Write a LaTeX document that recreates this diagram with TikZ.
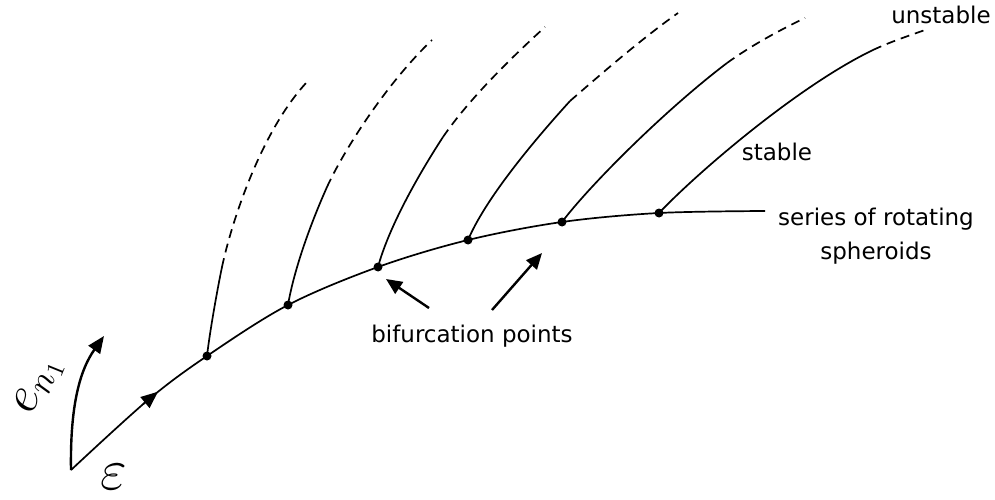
\documentclass[tikz,border=0pt]{standalone}
\usepackage{fontspec}
\setmainfont{DejaVu Sans}
\usetikzlibrary{arrows.meta}
\tikzset{
  curve/.style={line width=1.7pt},
  dashline/.style={line width=1.7pt, dash pattern=on 9pt off 6pt},
  bif/.style={circle, fill=black, inner sep=0pt, minimum size=9pt},
  lbl/.style={font=\fontsize{23}{34}\selectfont, inner sep=0pt},
  arr/.style={line width=2.4pt, -{Triangle[length=16pt,width=14pt]}},
}
\begin{document}
\begin{tikzpicture}[x=1pt,y=-1pt]
\useasboundingbox (0,0) rectangle (995,500);
% points
\coordinate (O) at (71,470);
\node[bif] (P1) at (207,356) {};
\node[bif] (P2) at (288,305) {};
\node[bif] (P3) at (378,267) {};
\node[bif] (P4) at (468,240) {};
\node[bif] (P5) at (562,222) {};
\node[bif] (P6) at (659,213) {};
\coordinate (E) at (765,211);
% main series
\draw[curve] plot[smooth, tension=0.55] coordinates {(71,470) (148,400) (207,356) (288,305) (378,267) (468,240) (562,222) (659,213) (765,211)};
\coordinate (M1) at (143,404.2); \coordinate (M2) at (158,391.7);
\draw[line width=1.7pt, -{Triangle[length=17pt,width=14pt]}] (M1) -- (M2);
% branch split points and ends
\coordinate (S1) at (222,267); \coordinate (T1) at (307,82);
\coordinate (S2) at (327,187); \coordinate (T2) at (432,40);
\coordinate (S3) at (443,137); \coordinate (T3) at (545,27);
\coordinate (S4) at (570,101); \coordinate (T4) at (678,13);
\coordinate (S5) at (727,63);  \coordinate (T5) at (805,18);
\coordinate (S6) at (873,50);  \coordinate (T6) at (925,30);
% branches
\draw[curve] (P1.center) .. controls (210,330) and (218,286) .. (S1);
\draw[dashline]  (S1) .. controls (232,220) and (262,130) .. (T1);
\draw[curve] (P2.center) .. controls (294,270) and (310,225) .. (S2);
\draw[dashline]  (S2) .. controls (343,152) and (385,85) .. (T2);
\draw[curve] (P3.center) .. controls (388,230) and (415,180) .. (S3);
\draw[dashline]  (S3) .. controls (465,105) and (500,68) .. (T3);
\draw[curve] (P4.center) .. controls (485,200) and (530,145) .. (S4);
\draw[dashline]  (S4) .. controls (600,75) and (640,40) .. (T4);
\draw[curve] (P5.center) .. controls (590,185) and (665,110) .. (S5);
\draw[dashline]  (S5) .. controls (752,45) and (780,30) .. (T5);
\draw[curve] (P6.center) .. controls (700,170) and (800,85) .. (S6);
\draw[dashline]  (S6) .. controls (890,42) and (908,36) .. (T6);
% labels
\node[lbl] (unst) at (941,15) {unstable};
\node[lbl] (stab) at (777,152) {stable};
\node[lbl, align=center] (ser) at (876,236) {series of rotating\\spheroids};
\node[lbl] (bifl) at (472,336) {bifurcation points};
% bifurcation arrows
\coordinate (A1s) at (429,308); \coordinate (A1e) at (386,279);
\coordinate (A2s) at (492,310); \coordinate (A2e) at (542,253);
\draw[arr] (A1s) -- (A1e);
\draw[arr] (A2s) -- (A2e);
% e_n1 arrow
\coordinate (En) at (104,336);
\draw[line width=2.4pt, -{Triangle[length=17pt,width=14pt]}] (O) .. controls (70,405) and (80,370) .. (En);
\node[font=\fontsize{20}{20}\selectfont, inner sep=0pt, rotate=68] (enl) at (39,386) {\scalebox{2.5}{$e_{n_1}$}};
\node[font=\fontsize{20}{20}\selectfont, inner sep=0pt] (epsl) at (114,477) {\scalebox{2.8}{$\varepsilon$}};
\end{tikzpicture}
\end{document}
